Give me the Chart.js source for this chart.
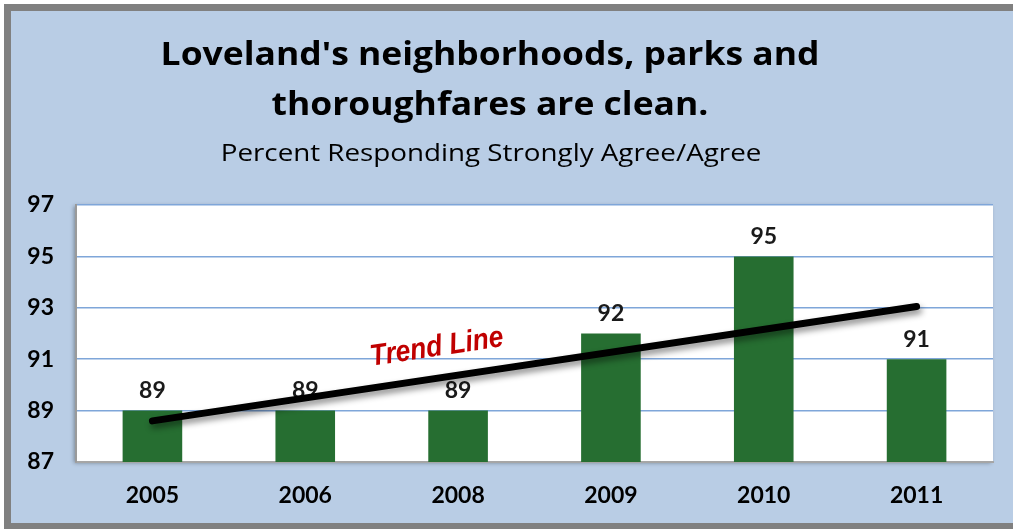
<!DOCTYPE html>
<html>
<head>
<meta charset="utf-8">
<script src="https://cdn.jsdelivr.net/npm/chart.js@4.4.1/dist/chart.umd.min.js"></script>
<style>
  html, body { margin: 0; padding: 0; background: #fff; }
  #frame {
    position: absolute; left: 4px; top: 4px;
    width: 1002px; height: 512px;
    background: #b9cde5;
    border-top: 7px solid #808080;
    border-left: 7px solid #808080;
    border-bottom: 6px solid #808080;
  }
  #chart { position: absolute; left: 0; top: 0; }
</style>
</head>
<body>
<div id="frame"></div>
<canvas id="chart" width="1013" height="529"></canvas>
<script>
const years = ['2005', '2006', '2008', '2009', '2010', '2011'];
const agreePct = [89, 89, 89, 92, 95, 91];
const yTicks = [87, 89, 91, 93, 95, 97];
// trend line values at the first and last year
const trendEnds = [88.6, 93.05];
const titleLines = ["Loveland's neighborhoods, parks and", 'thoroughfares are clean.'];
const subtitleText = 'Percent Responding Strongly Agree/Agree';
const trendLabel = 'Trend Line';

const trendData = years.map((_, i) =>
  i === 0 ? trendEnds[0] : (i === years.length - 1 ? trendEnds[1] : null));

// draw centred text, stretched horizontally by sx
function stretchedText(ctx, text, x, y, sx) {
  ctx.save();
  ctx.translate(x, y);
  ctx.scale(sx, 1);
  ctx.fillText(text, 0, 0);
  ctx.restore();
}

const decor = {
  id: 'decor',
  beforeDraw(chart) {
    const { ctx, chartArea: a } = chart;
    // white plot area with a soft shadow on the left
    ctx.save();
    ctx.shadowColor = 'rgba(0, 0, 0, 0.35)';
    ctx.shadowBlur = 4;
    ctx.shadowOffsetX = -2;
    ctx.shadowOffsetY = 1;
    ctx.fillStyle = '#ffffff';
    ctx.fillRect(a.left, a.top, a.right - a.left, a.bottom - a.top);
    ctx.restore();

    ctx.save();
    ctx.fillStyle = '#000';
    ctx.textAlign = 'center';
    ctx.textBaseline = 'middle';
    ctx.font = 'bold 32px "Open Sans"';
    stretchedText(ctx, titleLines[0], 490, 56, 1.108);
    stretchedText(ctx, titleLines[1], 490, 106, 1.108);
    ctx.font = '24px "Open Sans"';
    stretchedText(ctx, subtitleText, 491, 154, 1.157);
    ctx.restore();
  },
  beforeDatasetDraw(chart, args) {
    if (args.meta.type !== 'line') return;
    const ctx = chart.ctx;
    ctx.save();
    ctx.shadowColor = 'rgba(0, 0, 0, 0.45)';
    ctx.shadowBlur = 6;
    ctx.shadowOffsetX = 2;
    ctx.shadowOffsetY = 4;
  },
  afterDatasetDraw(chart, args) {
    const ctx = chart.ctx;
    if (args.meta.type === 'line') {
      ctx.restore();
      return;
    }
    // value labels above the bars
    ctx.save();
    ctx.fillStyle = '#1a1a1a';
    ctx.font = 'bold 23px Lato';
    ctx.textAlign = 'center';
    ctx.textBaseline = 'middle';
    args.meta.data.forEach((bar, i) => {
      ctx.fillText(String(agreePct[i]), bar.x, bar.y - 20);
    });
    ctx.restore();
  },
  afterDraw(chart) {
    const { ctx, scales: { x, y } } = chart;
    const last = years.length - 1;
    const x0 = x.getPixelForValue(0), y0 = y.getPixelForValue(trendEnds[0]);
    const x1 = x.getPixelForValue(last), y1 = y.getPixelForValue(trendEnds[1]);
    const angle = Math.atan2(y1 - y0, x1 - x0);
    ctx.save();
    ctx.translate(x.getPixelForValue(1.86), y.getPixelForValue(91.45));
    ctx.rotate(angle);
    ctx.scale(0.88, 1);
    ctx.font = 'italic bold 30px "Liberation Sans"';
    ctx.textAlign = 'center';
    ctx.textBaseline = 'middle';
    ctx.fillStyle = '#c00000';
    ctx.fillText(trendLabel, 0, 0);
    ctx.restore();
  }
};

new Chart(document.getElementById('chart'), {
  data: {
    labels: years,
    datasets: [
      {
        type: 'line',
        label: 'Trend',
        data: trendData,
        spanGaps: true,
        borderColor: '#000000',
        borderWidth: 7,
        borderCapStyle: 'round',
        pointRadius: 0,
        order: 0
      },
      {
        type: 'bar',
        label: 'Strongly Agree/Agree',
        data: agreePct,
        backgroundColor: '#266e31',
        categoryPercentage: 1,
        barPercentage: 0.39,
        order: 1
      }
    ]
  },
  options: {
    responsive: false,
    animation: false,
    layout: { padding: { top: 205, left: 10, right: 20, bottom: 0 } },
    plugins: {
      legend: { display: false },
      tooltip: { enabled: false }
    },
    scales: {
      x: {
        grid: { display: false, drawTicks: false },
        border: { color: '#a6a6a6', width: 2 },
        ticks: {
          color: '#000',
          padding: 20,
          font: { family: 'Lato', weight: 'bold', size: 23 }
        },
        afterFit(s) { s.height = 67; }
      },
      y: {
        min: 87,
        max: 97,
        afterBuildTicks(s) { s.ticks = yTicks.map(v => ({ value: v })); },
        grid: { color: '#7fa6d9', lineWidth: 1.5, drawTicks: false },
        border: { color: '#9a9a9a', width: 2 },
        ticks: {
          color: '#000',
          padding: 22,
          font: { family: 'Lato', weight: 'bold', size: 23 }
        },
        afterFit(s) { s.width = 66; }
      }
    }
  },
  plugins: [decor]
});
</script>
</body>
</html>
